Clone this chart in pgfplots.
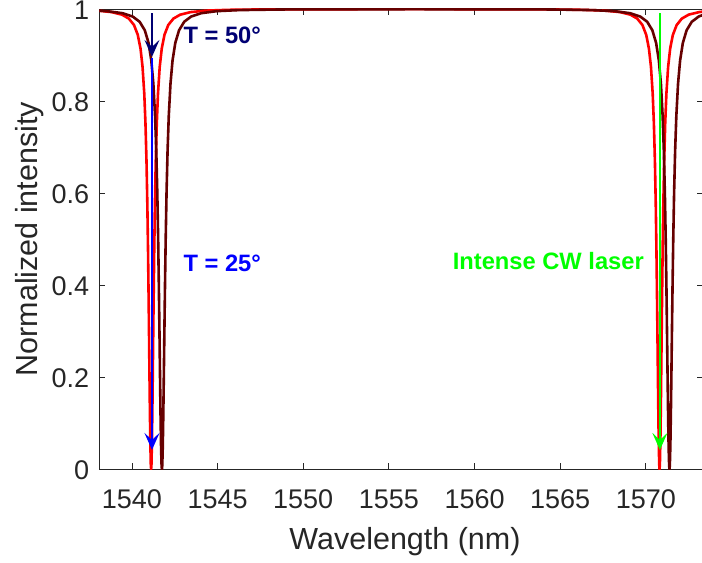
\documentclass[border=0pt]{standalone}
\usepackage{fontspec}
\setmainfont{Liberation Sans}
\usepackage{pgfplots}
\pgfplotsset{compat=1.18}
\usetikzlibrary{arrows.meta}
\definecolor{navyc}{rgb}{0,0,0.45}
\definecolor{darkc}{rgb}{0.4,0,0}
\definecolor{axgray}{rgb}{0.15,0.15,0.15}
\begin{document}
\begin{tikzpicture}
\begin{axis}[
  at={(0,0)}, anchor=south west,
  scale only axis, width=604bp, height=460.3bp,
  xmin=1538.1, xmax=1573.36, ymin=0, ymax=1,
  xtick={1540,1545,1550,1555,1560,1565,1570},
  ytick={0,0.2,0.4,0.6,0.8,1},
  tick align=inside, xtick pos=both, ytick pos=both,
  major tick length=6bp,
  axis line style={axgray, line width=0.8bp},
  every tick/.style={axgray, line width=0.8bp},
  ticklabel style={font=\fontsize{27bp}{32bp}\selectfont, text=axgray},
  /pgf/number format/assume math mode=true,
  /pgf/number format/set thousands separator={},
  xticklabel style={anchor=base, yshift=-39bp},
  yticklabel style={anchor=east, inner sep=0pt, xshift=-10bp, yshift=-1.2bp},
  xlabel={Wavelength (nm)}, ylabel={Normalized intensity},
  every axis x label/.style={at={(axis description cs:0.506,0)}, anchor=base, yshift=-79.7bp, font=\fontsize{30.5bp}{36bp}\selectfont, text=axgray},
  every axis y label/.style={at={(axis description cs:-0.1033,0.5)}, rotate=90, anchor=base, font=\fontsize{30.5bp}{36bp}\selectfont, text=axgray},
]
\addplot[red, line width=2.6bp, line join=round] coordinates {
(1538.10,0.9961) (1538.82,0.9932) (1539.42,0.9877) (1539.82,0.9791) (1540.12,0.9652) (1540.34,0.9440) (1540.50,0.9141) (1540.62,0.8738) (1540.72,0.8160) (1540.79,0.7510) (1540.85,0.6690) (1540.90,0.5730) (1540.94,0.4730) (1540.98,0.3520) (1541.01,0.2510) (1541.04,0.1506) (1541.07,0.0648) (1541.10,0.0110) (1541.12,0)
(1541.14,0.0110) (1541.17,0.0648) (1541.20,0.1506) (1541.23,0.2510) (1541.26,0.3520) (1541.30,0.4730) (1541.34,0.5730) (1541.39,0.6690) (1541.45,0.7510) (1541.52,0.8160) (1541.62,0.8738) (1541.74,0.9141) (1541.90,0.9440) (1542.12,0.9652) (1542.42,0.9791) (1542.82,0.9877) (1543.42,0.9932) (1544.32,0.9965) (1545.62,0.9982) (1548.12,0.9993) (1556.00,0.9997)
(1563.80,0.9993) (1566.30,0.9982) (1567.60,0.9965) (1568.50,0.9932) (1569.10,0.9877) (1569.50,0.9791) (1569.80,0.9652) (1570.02,0.9440) (1570.18,0.9141) (1570.30,0.8738) (1570.40,0.8160) (1570.47,0.7510) (1570.53,0.6690) (1570.58,0.5730) (1570.62,0.4730) (1570.66,0.3520) (1570.69,0.2510) (1570.72,0.1506) (1570.75,0.0648) (1570.78,0.0110) (1570.80,0)
(1570.82,0.0110) (1570.85,0.0648) (1570.88,0.1506) (1570.91,0.2510) (1570.94,0.3520) (1570.98,0.4730) (1571.02,0.5730) (1571.07,0.6690) (1571.13,0.7510) (1571.20,0.8160) (1571.30,0.8738) (1571.42,0.9141) (1571.58,0.9440) (1571.80,0.9652) (1572.10,0.9791) (1572.50,0.9877) (1573.10,0.9932) (1573.36,0.9945)
};
\addplot[darkc, line width=2.6bp, line join=round] coordinates {
(1538.10,0.9963) (1538.55,0.9953) (1539.45,0.9909) (1540.05,0.9835) (1540.45,0.9722) (1540.75,0.9538) (1540.97,0.9263) (1541.13,0.8882) (1541.25,0.8378) (1541.35,0.7678) (1541.42,0.6923) (1541.48,0.6010) (1541.53,0.5000) (1541.57,0.4010) (1541.61,0.2882) (1541.64,0.2000) (1541.67,0.1168) (1541.70,0.0491) (1541.73,0.0082) (1541.75,0)
(1541.77,0.0082) (1541.80,0.0491) (1541.83,0.1168) (1541.86,0.2000) (1541.89,0.2882) (1541.93,0.4010) (1541.97,0.5000) (1542.02,0.6010) (1542.08,0.6923) (1542.15,0.7678) (1542.25,0.8378) (1542.37,0.8882) (1542.53,0.9263) (1542.75,0.9538) (1543.05,0.9722) (1543.45,0.9835) (1544.05,0.9909) (1544.95,0.9953) (1546.25,0.9976) (1548.75,0.9990) (1556.50,0.9996)
(1564.38,0.9990) (1566.88,0.9976) (1568.18,0.9953) (1569.08,0.9909) (1569.68,0.9835) (1570.08,0.9722) (1570.38,0.9538) (1570.60,0.9263) (1570.76,0.8882) (1570.88,0.8378) (1570.98,0.7678) (1571.05,0.6923) (1571.11,0.6010) (1571.16,0.5000) (1571.20,0.4010) (1571.24,0.2882) (1571.27,0.2000) (1571.30,0.1168) (1571.33,0.0491) (1571.36,0.0082) (1571.38,0)
(1571.40,0.0082) (1571.43,0.0491) (1571.46,0.1168) (1571.49,0.2000) (1571.52,0.2882) (1571.56,0.4010) (1571.60,0.5000) (1571.65,0.6010) (1571.71,0.6923) (1571.78,0.7678) (1571.88,0.8378) (1572.00,0.8882) (1572.16,0.9263) (1572.38,0.9538) (1572.68,0.9722) (1573.08,0.9835) (1573.36,0.9876)
};
\addplot[navyc, line width=1.8bp, -{Stealth[length=17bp, width=15bp, inset=7bp]}] coordinates {(1541.17,0.991) (1541.17,0.896)};
\addplot[blue, line width=1.8bp, -{Stealth[length=17bp, width=15bp, inset=7bp]}] coordinates {(1541.17,0.893) (1541.17,0.042)};
\addplot[green, line width=1.8bp, -{Stealth[length=17bp, width=15bp, inset=7bp]}] coordinates {(1570.82,0.991) (1570.82,0.042)};
\node[anchor=base west, inner sep=0pt, text=navyc, font=\fontsize{23.7bp}{28bp}\selectfont\bfseries] at (axis cs:1543.0,0.924) {T = 50°};
\node[anchor=base west, inner sep=0pt, text=blue, font=\fontsize{23.7bp}{28bp}\selectfont\bfseries] at (axis cs:1543.0,0.429) {T = 25°};
\node[anchor=base west, inner sep=0pt, text=green, font=\fontsize{23.7bp}{28bp}\selectfont\bfseries] at (axis cs:1558.72,0.433) {Intense CW laser};
\end{axis}
\pgfresetboundingbox
\useasboundingbox (-99.4bp,-93.7bp) rectangle (602.6bp,469.3bp);
\end{tikzpicture}
\end{document}
